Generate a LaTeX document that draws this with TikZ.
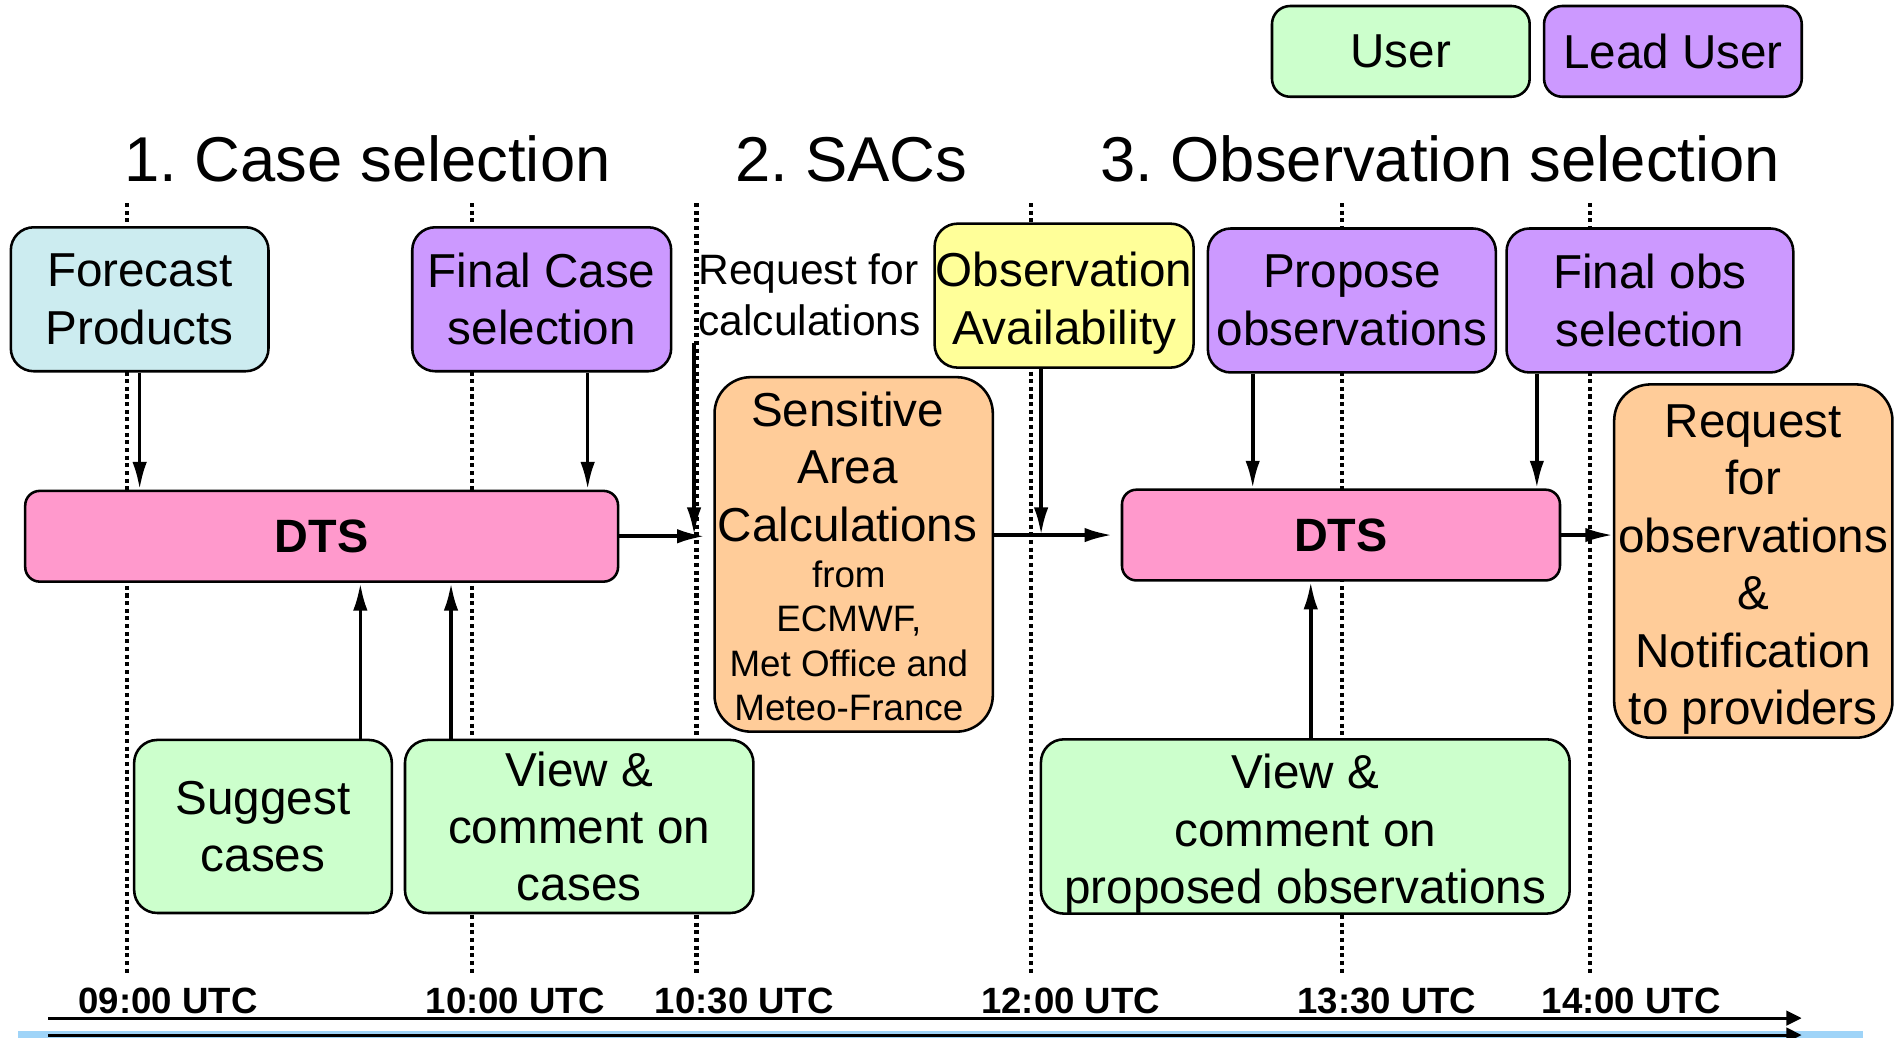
\documentclass[tikz,border=0pt]{standalone}
\usepackage{fontspec}
\setmainfont{Liberation Sans}
\usetikzlibrary{arrows.meta}
\definecolor{leadusr}{HTML}{CC99FF}
\definecolor{usr}{HTML}{CCFFCC}
\definecolor{dtspink}{HTML}{FF99CC}
\definecolor{calcorange}{HTML}{FFCC99}
\definecolor{obsyellow}{HTML}{FFFF99}
\definecolor{fcblue}{HTML}{CCECF0}
\definecolor{bandblue}{HTML}{9FD4F8}
\newcommand{\boxfont}{\fontsize{11.2}{13.5}\selectfont}
% pushes the first line of a box down a little
\newcommand{\lowstrut}{\rule{0pt}{0.41cm}}
\frenchspacing
\tikzset{
  box/.style={draw, line width=0.6pt, rounded corners=0.19cm, align=center,
    inner sep=0pt, font=\boxfont},
  dtsbox/.style={box, fill=dtspink, rounded corners=0.12cm,
    font=\fontsize{11}{13}\selectfont\bfseries},
  calcbox/.style={box, fill=calcorange, rounded corners=0.3cm},
  title/.style={anchor=base, inner sep=0pt, font=\fontsize{14.9}{18}\selectfont},
  clock/.style={anchor=base, inner sep=0pt, font=\fontsize{8.6}{10}\selectfont\bfseries},
  hourline/.style={line width=0.95pt, dash pattern=on 0.95pt off 0.85pt},
  arr/.style={line width=0.85pt, -{Latex[length=6.5pt,width=3.4pt]}},
  axis/.style={line width=0.7pt, -{Triangle[length=3.6pt,width=3.4pt]}}
}
\begin{document}
\begin{tikzpicture}[x=0.01cm,y=-0.01cm]
  \useasboundingbox (0,0) rectangle (1568,858);

  \foreach \x in {105,390,576,853,1110,1315}
    \draw[hourline] (\x,168) -- (\x,805);

  \node[box, fill=usr, rounded corners=0.15cm, minimum width=2.13cm,
    minimum height=0.75cm] (usrkey) at (1158.5,42.5) {User};
  \node[box, fill=leadusr, rounded corners=0.15cm, minimum width=2.13cm,
    minimum height=0.75cm] (leadkey) at (1383.5,42.5) {Lead User};

  \node[title] (phase1) at (304,150) {1. Case selection};
  \node[title] (phase2) at (704,150) {2. SACs};
  \node[title] (phase3) at (1191,150) {3. Observation selection};

  \node[box, fill=fcblue, minimum width=2.13cm, minimum height=1.19cm]
    (fc) at (115.5,247.5) {Forecast\\Products};
  \node[box, fill=leadusr, minimum width=2.14cm, minimum height=1.19cm]
    (fcs) at (448,247.5) {Final Case\\selection};
  \node[box, fill=obsyellow, minimum width=2.14cm, minimum height=1.19cm]
    (oa) at (880,244.5) {\lowstrut Observation\\Availability};
  \node[box, fill=leadusr, minimum width=2.38cm, minimum height=1.19cm]
    (po) at (1118,248.5) {Propose\\observations};
  \node[box, fill=leadusr, minimum width=2.37cm, minimum height=1.19cm]
    (fos) at (1364.5,248.5) {Final obs\\selection};

  \node[anchor=west, align=left, inner sep=0pt,
    font=\fontsize{10}{11.9}\selectfont] (rqtext) at (577,244)
    {Request for\\calculations};
  \coordinate (rqcalc) at (574,284);

  \node[dtsbox, minimum width=4.9cm, minimum height=0.75cm]
    (dts1) at (266,443.5) {DTS};
  \node[dtsbox, minimum width=3.62cm, minimum height=0.75cm]
    (dts2) at (1109,442.5) {DTS};

  \node[calcbox, minimum width=2.3cm, minimum height=2.93cm]
    (sac) at (706,458.5) {};
  \node[align=center, inner sep=0pt, font=\boxfont] (sactxt) at (701,386)
    {Sensitive\\Area\\Calculations};
  \node[align=center, inner sep=0pt, font=\fontsize{8.65}{10.4}\selectfont]
    (sacsrc) at (702,530) {from\\ECMWF,\\Met Office and\\Meteo-France};

  \node[calcbox, minimum width=2.3cm, minimum height=2.92cm]
    (req) at (1450,464)
    {\lowstrut Request\\for\\observations\\\&\\Notification\\to providers};

  \node[box, fill=usr, minimum width=2.13cm, minimum height=1.43cm]
    (sug) at (217.5,683.5) {Suggest\\cases};
  \node[box, fill=usr, minimum width=2.88cm, minimum height=1.43cm]
    (vcc) at (479,683.5) {View \&\\comment on\\cases};
  \node[box, fill=usr, minimum width=4.37cm, minimum height=1.43cm]
    (vcp) at (1079.5,683.5) {\lowstrut View \&\\comment on\\proposed observations};

  \draw[arr] (fc.south) -- (fc.south |- dts1.north);
  \draw[arr] (fcs.south -| 486,0) -- (dts1.north -| 486,0);
  \draw[arr] (sug.north -| 298,0) -- (dts1.south -| 298,0);
  \draw[arr] (vcc.north -| 373,0) -- (dts1.south -| 373,0);
  \draw[arr, shorten >=2pt] (dts1.east) -- (dts1.east -| sac.west);
  \draw[arr] (rqcalc) -- (rqcalc |- dts2.west);
  \draw[arr, shorten >=2pt] (sac.east |- dts2.west) -- (dts2.west);
  \draw[arr] (oa.south -| 861,0) -- (dts2.west -| 861,0);
  \draw[arr] (po.south -| 1036,0) -- (dts2.north -| 1036,0);
  \draw[arr] (fos.south -| 1271,0) -- (dts2.north -| 1271,0);
  \draw[arr] (vcp.north -| 1084,0) -- (dts2.south -| 1084,0);
  \draw[arr] (dts2.east) -- (dts2.east -| req.west);

  \foreach \x/\t [count=\i] in {139/09:00,426/10:00,615.5/10:30,
      885.5/12:00,1147/13:30,1349/14:00}
    \node[clock] (clk\i) at (\x,838) {\t\ UTC};

  \coordinate (tstart) at (40,842);
  \coordinate (tend) at (1490,842);
  \draw[axis] (tstart) -- (tend);
  \fill[bandblue] (15,853) rectangle (1541,860);
  \draw[axis] (40,856) -- (1490,856);
\end{tikzpicture}
\end{document}
